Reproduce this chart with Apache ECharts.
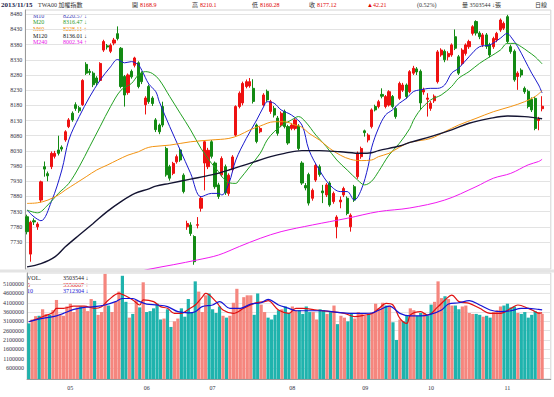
<!DOCTYPE html>
<html>
<head>
<meta charset="utf-8">
<script src="https://cdn.jsdelivr.net/npm/echarts@6/dist/echarts.min.js"></script>
<style>
html, body { margin: 0; padding: 0; background: #fff; }
#main { width: 554px; height: 397px; }
</style>
</head>
<body>
<div id="main"></div>
<script>
// trading days shown on the chart (2013)
var days = [
  '04/15','04/16','04/17','04/18','04/19','04/22','04/23','04/24','04/25','04/26','04/29','04/30',
  '05/02','05/03','05/06','05/07','05/08','05/09','05/10','05/13','05/14','05/15','05/16','05/17','05/20','05/21','05/22','05/23','05/24','05/27','05/28','05/29','05/30','05/31',
  '06/03','06/04','06/05','06/06','06/07','06/10','06/11','06/13','06/14','06/17','06/18','06/19','06/20','06/21','06/24','06/25','06/26','06/27','06/28',
  '07/01','07/02','07/03','07/04','07/05','07/08','07/09','07/10','07/11','07/12','07/15','07/16','07/17','07/18','07/19','07/22','07/23','07/24','07/25','07/26','07/29','07/30','07/31',
  '08/01','08/02','08/05','08/06','08/07','08/08','08/09','08/12','08/13','08/14','08/15','08/16','08/19','08/20','08/22','08/23','08/26','08/27','08/28','08/29','08/30',
  '09/02','09/03','09/04','09/05','09/06','09/09','09/10','09/11','09/12','09/13','09/16','09/17','09/18','09/23','09/24','09/25','09/26','09/27','09/30',
  '10/01','10/02','10/03','10/04','10/07','10/08','10/09','10/11','10/14','10/15','10/16','10/17','10/18','10/21','10/22','10/23','10/24','10/25','10/28','10/29','10/30','10/31',
  '11/01','11/04','11/05','11/06','11/07','11/08','11/11','11/12','11/13','11/14','11/15'
];

// [open, close, low, high]
var kdata = [
  [7813,7764,7755,7820],[7690,7795,7665,7800],[7800,7796,7786,7808],[7780,7789,7770,7795],[7868,7928,7860,7932],
  [7978,7970,7945,7995],[7955,7948,7930,7962],[7978,8022,7970,8028],[8012,8022,8005,8030],[8033,8022,8015,8080],
  [8042,8036,8028,8048],[8066,8093,8060,8098],[8110,8132,8105,8138],[8154,8132,8126,8160],[8182,8170,8162,8190],
  [8172,8162,8155,8178],[8182,8262,8178,8266],[8315,8286,8280,8322],[8292,8288,8280,8300],[8286,8248,8240,8292],
  [8270,8254,8246,8276],[8262,8318,8258,8322],[8362,8390,8356,8396],[8376,8372,8364,8382],[8358,8378,8352,8384],
  [8385,8395,8378,8402],[8416,8400,8394,8440],[8368,8242,8236,8372],[8275,8214,8176,8280],[8222,8280,8215,8285],
  [8292,8274,8268,8298],[8312,8336,8305,8340],[8320,8242,8236,8325],[8286,8258,8250,8292],[8182,8204,8150,8210],
  [8242,8192,8185,8248],[8204,8186,8178,8210],[8132,8100,8092,8138],[8115,8093,8085,8120],[8176,8115,8108,8192],
  [8038,7951,7945,8044],[7978,7940,7932,7984],[7956,7989,7950,7994],[7994,8011,7988,8018],[8033,8000,7994,8040],
  [7950,7896,7890,7956],[7780,7791,7770,7800],[7786,7758,7750,7795],[7748,7665,7655,7752],[7785,7787,7775,7812],
  [7841,7874,7830,7880],[7990,8060,7900,8064],[7978,8032,7970,8040],[8060,8012,8005,8066],[7990,7912,7905,7995],
  [7918,7880,7872,7925],[7951,8005,7945,8012],[7978,7892,7885,7985],[7890,7950,7882,7956],[7968,8010,7960,8016],
  [8082,8176,8076,8180],[8176,8220,8170,8226],[8188,8252,8180,8258],[8242,8258,8236,8265],[8244,8258,8238,8270],
  [8236,8193,8186,8266],[8115,8061,8055,8120],[8093,8104,8088,8110],[8181,8214,8176,8220],[8226,8198,8192,8232],
  [8160,8192,8152,8198],[8170,8148,8140,8178],[8138,8088,8080,8145],[8115,8154,8108,8160],[8160,8110,8104,8166],
  [8110,8056,8050,8116],[8104,8115,8098,8122],[8104,8132,8098,8138],[8112,8038,8032,8118],[7990,7924,7918,7996],
  [7916,7908,7900,7924],[7952,7858,7850,7958],[7874,7900,7866,7906],[7934,7982,7928,7988],[7978,7952,7945,7985],
  [7898,7892,7858,7918],[7885,7918,7878,7924],[7924,7852,7846,7930],[7863,7890,7856,7896],[7780,7812,7742,7818],
  [7862,7868,7841,7880],[7885,7906,7878,7912],[7874,7824,7818,7880],[7780,7818,7764,7824],[7912,7868,7862,7918],
  [7945,8022,7938,8028],[8011,8038,8004,8044],[8096,8090,8077,8100],[8066,8082,8058,8088],[8110,8165,8104,8170],
  [8176,8165,8160,8182],[8176,8192,8170,8198],[8216,8210,8203,8236],[8176,8209,8170,8214],[8181,8225,8176,8230],
  [8209,8176,8170,8214],[8170,8143,8136,8176],[8203,8252,8198,8258],[8230,8247,8224,8254],[8247,8209,8202,8252],
  [8225,8291,8220,8296],[8286,8302,8280,8310],[8300,8290,8280,8306],[8292,8188,8165,8298],[8224,8231,8215,8238],
  [8200,8204,8143,8220],[8170,8187,8162,8194],[8195,8210,8188,8216],[8258,8356,8252,8362],[8346,8362,8340,8368],
  [8358,8330,8322,8364],[8340,8351,8328,8358],[8346,8379,8340,8384],[8406,8368,8362,8430],[8340,8286,8280,8346],
  [8318,8362,8312,8368],[8351,8379,8344,8384],[8373,8390,8366,8396],[8417,8439,8410,8444],[8456,8418,8410,8460],
  [8418,8406,8398,8424],[8379,8412,8372,8418],[8412,8374,8366,8418],[8380,8346,8338,8386],[8373,8400,8366,8406],
  [8395,8417,8388,8422],[8428,8461,8422,8466],[8434,8450,8428,8456],[8472,8390,8384,8478],[8373,8357,8350,8380],
  [8358,8264,8258,8364],[8275,8286,8231,8292],[8296,8280,8272,8302],[8236,8225,8218,8242],[8226,8176,8170,8232],
  [8200,8165,8158,8206],[8203,8104,8098,8208],[8130,8134.91,8098,8142],[8168.9,8177.12,8160.28,8210.1]
];

var volumes = [
  2990000,3200000,3380000,3400000,3750000,3500000,3450000,3700000,4250000,3500000,
  3400000,3900000,4050000,3600000,3850000,3900000,3850000,3650000,4300000,4200000,
  3450000,3600000,5650000,3950000,3600000,4150000,4700000,5550000,4150000,3300000,
  3500000,4250000,3850000,5200000,3600000,3650000,3800000,4050000,3200000,3250000,
  3750000,2800000,3100000,3250000,3800000,3350000,4300000,3550000,5250000,4700000,
  3600000,4500000,4600000,3750000,3550000,3900000,3400000,3300000,3400000,4100000,
  4850000,3800000,4400000,4500000,4500000,3450000,4600000,4000000,3600000,3300000,
  3200000,3450000,3700000,3750000,3900000,3550000,3900000,3700000,3700000,3500000,
  3900000,3600000,3600000,3200000,3750000,3700000,3500000,3600000,3950000,2950000,
  3400000,3300000,3100000,3500000,3250000,3600000,3550000,3400000,3500000,3550000,
  4050000,3800000,4100000,3950000,3950000,3050000,2100000,3200000,3100000,3400000,
  3800000,3700000,3400000,3550000,3550000,3400000,4000000,4150000,5250000,4350000,
  4450000,4300000,3950000,3950000,3750000,3900000,3950000,3550000,3500000,3500000,
  3450000,3350000,3400000,3300000,3600000,3700000,3900000,3950000,4050000,3850000,
  3900000,3550000,3500000,3600000,3300000,3450000,3650000,3600000,3503544
];

// moving averages: [day index, value]
var ma10 = [[0,7835],[2,7813],[4,7800],[7,7863],[10,7967],[12,8066],[15,8143],[18,8208],[21,8263],[24,8307],[26,8331],[28,8320],[30,8324],[32,8313],[33,8295],[35,8250],[37,8225],[38,8192],[41,8110],[44,8033],[47,7956],[50,7879],[53,7890],[55,7890],[56,7885],[58,7923],[60,8000],[63,8071],[66,8132],[68,8176],[69,8192],[71,8187],[73,8165],[76,8148],[79,8115],[81,8033],[84,7967],[87,7918],[90,7896],[92,7896],[94,7868],[96,7901],[98,7978],[99,8040],[101,8105],[103,8148],[105,8165],[107,8187],[109,8203],[111,8225],[113,8231],[116,8236],[118,8236],[120,8247],[122,8286],[124,8302],[127,8340],[130,8373],[133,8379],[136,8401],[138,8417],[139,8406],[141,8373],[143,8330],[145,8286],[147,8247],[148,8220.57]];
var ma20 = [[0,7835],[3,7826],[6,7852],[9,7890],[12,7923],[15,7978],[18,8044],[21,8110],[24,8176],[27,8230],[30,8252],[32,8280],[34,8291],[36,8285],[38,8264],[41,8209],[44,8154],[47,8099],[50,8038],[53,7989],[55,7962],[56,7945],[58,7925],[60,7923],[61,7935],[64,7978],[67,8022],[69,8066],[71,8093],[73,8112],[76,8132],[78,8143],[80,8126],[83,8082],[86,8044],[89,8000],[92,7967],[95,7934],[97,7918],[99,7930],[101,7962],[104,8016],[107,8055],[110,8104],[111,8130],[113,8165],[116,8198],[119,8214],[122,8242],[124,8269],[127,8291],[130,8318],[133,8340],[136,8362],[138,8384],[140,8384],[142,8373],[144,8357],[146,8340],[148,8316.47]];
var ma60 = [[0,7857],[3,7859],[6,7868],[9,7885],[11,7901],[14,7923],[17,7945],[20,7967],[23,7983],[26,8000],[29,8016],[32,8027],[34,8038],[36,8044],[41,8049],[47,8060],[53,8066],[58,8071],[61,8082],[64,8099],[67,8112],[71,8126],[74,8126],[77,8115],[79,8108],[81,8088],[84,8066],[87,8038],[90,8016],[93,8002],[96,7998],[99,8000],[101,8011],[104,8022],[107,8042],[110,8058],[116,8071],[120,8093],[124,8115],[129,8137],[134,8159],[139,8176],[143,8192],[146,8209],[148,8228.11]];
var ma120 = [[0,7648],[4,7659],[8,7681],[11,7714],[15,7753],[19,7791],[23,7830],[27,7863],[31,7890],[35,7905],[37,7914],[41,7923],[47,7937],[53,7951],[58,7967],[64,7989],[70,8011],[74,8022],[79,8031],[84,8031],[90,8027],[96,8022],[99,8024],[101,8031],[107,8046],[110,8058],[116,8077],[122,8099],[127,8121],[133,8137],[138,8145],[143,8143],[148,8136.01]];
var ma240 = [[30,7625],[35,7640],[42,7655],[49,7671],[55,7687],[61,7715],[67,7742],[73,7764],[82,7786],[92,7808],[101,7830],[110,7842],[120,7868],[129,7912],[134,7940],[139,7956],[144,7984],[147,7995],[148,8002.34]];

var volMa5 = [[0,3080000],[4,3350000],[7,3580000],[8,3800000],[10,3800000],[13,3920000],[16,3920000],[19,3800000],[21,3890000],[23,4250000],[26,4600000],[28,4460000],[30,4250000],[32,3980000],[33,4250000],[36,4160000],[38,3890000],[40,3800000],[42,3530000],[44,3530000],[46,3740000],[48,3980000],[50,4400000],[51,4600000],[54,4160000],[56,3710000],[59,3530000],[62,3800000],[65,4070000],[68,4160000],[69,4210000],[72,3710000],[75,3530000],[77,3800000],[79,3800000],[83,3710000],[87,3620000],[91,3530000],[94,3350000],[97,3440000],[99,3530000],[101,3800000],[103,4070000],[105,3980000],[107,3260000],[109,2990000],[110,3440000],[113,3620000],[115,3440000],[118,3890000],[120,4250000],[122,4510000],[124,4160000],[127,4070000],[130,3800000],[133,3530000],[136,3530000],[139,3800000],[141,3980000],[144,3800000],[146,3620000],[147,3540000],[148,3556067]];
var volMa10 = [[0,3080000],[4,3260000],[8,3390000],[10,3530000],[13,3740000],[16,3850000],[19,3890000],[22,3980000],[25,4160000],[27,4330000],[30,4330000],[32,4160000],[34,4030000],[37,3980000],[40,3890000],[43,3620000],[46,3560000],[48,3620000],[50,3890000],[53,3980000],[55,4160000],[58,3800000],[61,3800000],[64,4030000],[67,4100000],[69,4280000],[72,3980000],[75,3800000],[77,3670000],[81,3670000],[85,3670000],[89,3580000],[93,3530000],[97,3530000],[99,3550000],[101,3710000],[104,3920000],[107,3530000],[110,3390000],[113,3390000],[116,3490000],[119,3710000],[121,4030000],[124,4100000],[127,4210000],[130,3980000],[133,3710000],[136,3620000],[139,3670000],[142,3800000],[144,3800000],[147,3740000],[148,3712304]];

var priceTicks = [7730,7780,7830,7880,7930,7980,8030,8080,8130,8180,8230,8280,8330,8380,8430,8480];
var volTicks = [600000,1100000,1600000,2100000,2600000,3100000,3600000,4100000,4600000,5100000];

var FONT = '"Liberation Serif", "Noto Sans CJK TC", serif';
var upColor = '#EE1111', downColor = '#138A13';
var volUp = '#F5867E', volDown = '#1FB3AD';

// two empty slots after the last day, the reference leaves that room
var axisDays = days.concat(['', '']);

var volBars = volumes.map(function (v, i) {
    var prev = i > 0 ? kdata[i - 1][1] : kdata[i][0];
    return { value: v, itemStyle: { color: kdata[i][1] >= prev ? volUp : volDown } };
});

var isMonthStart = function (i) {
    if (i <= 0 || i >= days.length) return false;
    return days[i].slice(0, 2) !== days[i - 1].slice(0, 2);
};

var arrow = function (pts) {
    var n = pts.length;
    var a = pts[n - 1], b = pts[n - 2];
    var av = a.length ? a[1] : a, bv = b.length ? b[1] : b;
    return av >= bv ? '↑' : '↓';
};
var lastVal = function (pts) { return pts[pts.length - 1][1]; };
var plain = function (v) { return String(v); };

var txt = function (x, y, s, color, size, bold) {
    return {
        type: 'text', x: x, y: y, silent: true,
        style: { text: s, fill: color, fontSize: size || 6, fontFamily: FONT,
                 fontWeight: bold ? 'bold' : 'normal', verticalAlign: 'middle' }
    };
};

var last = kdata[kdata.length - 1];
var prevClose = kdata[kdata.length - 2][1];
var chg = last[1] - prevClose;

var graphics = [
    { type: 'rect', shape: { x: 0, y: 269.5, width: 554, height: 3 }, style: { fill: '#E4E4E4' }, silent: true },
    txt(1, 5, '2013/11/15', '#1B1B4B', 7, true),
    txt(38, 5, 'TWA00 加權指數', '#333333', 6),
    txt(132, 5, '開', '#333333', 6), txt(140, 5, String(last[0]), '#E00000', 6),
    txt(192, 5, '高', '#333333', 6), txt(200, 5, String(last[3]), '#E00000', 6),
    txt(252, 5, '低', '#333333', 6), txt(260, 5, String(last[2]), '#E00000', 6),
    txt(309, 5, '收', '#333333', 6), txt(317, 5, String(last[1]), '#E00000', 6),
    txt(367, 5, (chg >= 0 ? '▲' : '▼') + Math.abs(chg).toFixed(2), '#E00000', 6),
    txt(417, 5, '(' + (chg / prevClose * 100).toFixed(2) + '%)', '#333333', 6),
    txt(462, 5, '量 ' + volumes[volumes.length - 1] + ' ' + arrow(volumes) + '張', '#333333', 6),
    txt(535, 5, '日線', '#333333', 6)
];

var maDefs = [
    { name: 'M10', pts: ma10, color: '#1A1ACC', text: '#3A3AB8', width: 1 },
    { name: 'M20', pts: ma20, color: '#22A022', text: '#2E9E2E', width: 1 },
    { name: 'M60', pts: ma60, color: '#F29312', text: '#F08A00', width: 1 },
    { name: 'M120', pts: ma120, color: '#141432', text: '#141414', width: 1.4 },
    { name: 'M240', pts: ma240, color: '#F01AF0', text: '#E81AE8', width: 1 }
];
var legendY = [15.7, 22.3, 29, 35.5, 42.2];
maDefs.forEach(function (d, k) {
    graphics.push(txt(33, legendY[k], d.name, d.text, 6));
    graphics.push(txt(63, legendY[k], lastVal(d.pts).toFixed(2) + ' ' + arrow(d.pts), d.text, 6));
});
graphics.push(txt(27, 278, 'VOL.', '#222222', 6));
graphics.push(txt(63, 278, volumes[volumes.length - 1] + ' ' + arrow(volumes), '#222222', 6));
graphics.push(txt(27, 284.6, '5', '#E01010', 6));
graphics.push(txt(63, 284.6, lastVal(volMa5) + ' ' + arrow(volMa5), '#E01010', 6));
graphics.push(txt(27, 291.2, '10', '#1515D5', 6));
graphics.push(txt(63, 291.2, lastVal(volMa10) + ' ' + arrow(volMa10), '#1515D5', 6));

var lineSeries = function (name, pts, color, width, xi) {
    return {
        name: name, type: 'line', data: pts, xAxisIndex: xi, yAxisIndex: xi,
        showSymbol: false, symbol: 'none', smooth: 0.35, clip: true,
        lineStyle: { color: color, width: width }, z: 3
    };
};

var series = [{
    name: 'K', type: 'candlestick', data: kdata, xAxisIndex: 0, yAxisIndex: 0,
    barWidth: 2.6, z: 2,
    itemStyle: { color: upColor, color0: downColor, borderColor: upColor, borderColor0: downColor, borderWidth: 1 }
}];
maDefs.forEach(function (d) { series.push(lineSeries(d.name, d.pts, d.color, d.width, 0)); });
series.push({
    name: 'VOL', type: 'bar', data: volBars, xAxisIndex: 1, yAxisIndex: 1, barWidth: 3.2, z: 2
});
series.push(lineSeries('V5', volMa5, '#E01010', 1.2, 1));
series.push(lineSeries('V10', volMa10, '#1515D5', 1.2, 1));

var chart = echarts.init(document.getElementById('main'), null, { renderer: 'svg' });
chart.setOption({
    animation: false,
    backgroundColor: '#ffffff',
    grid: [
        { left: 25.3, top: 10, width: 525.5, height: 259, show: true, borderColor: '#D4D4D4', borderWidth: 1 },
        { left: 25.3, top: 273, width: 525.5, height: 106, show: true, borderColor: '#D4D4D4', borderWidth: 1 }
    ],
    xAxis: [
        { type: 'category', gridIndex: 0, data: axisDays, boundaryGap: true,
          axisLine: { show: false }, axisTick: { show: false }, axisLabel: { show: false }, splitLine: { show: false } },
        { type: 'category', gridIndex: 1, data: axisDays, boundaryGap: true,
          axisLine: { show: true, lineStyle: { color: '#9A9A9A' } }, axisTick: { show: false },
          axisLabel: { interval: function (i) { return isMonthStart(i); },
                       formatter: function (v) { return v.slice(0, 2); },
                       fontSize: 6, fontFamily: FONT, color: '#333344', margin: 6 },
          splitLine: { show: false } }
    ],
    yAxis: [
        { type: 'value', gridIndex: 0, min: 7641, max: 8494,
          axisLine: { show: true, lineStyle: { color: '#9A9A9A' } },
          axisTick: { show: false, customValues: priceTicks },
          axisLabel: { customValues: priceTicks, formatter: plain, fontSize: 6, fontFamily: FONT, color: '#333344', margin: 3 },
          splitLine: { show: true, lineStyle: { color: '#E3E3E3', width: 1 } } },
        { type: 'value', gridIndex: 1, min: 0, max: 5700000,
          axisLine: { show: true, lineStyle: { color: '#9A9A9A' } },
          axisTick: { show: false, customValues: volTicks },
          axisLabel: { customValues: volTicks, formatter: plain, fontSize: 6, fontFamily: FONT, color: '#333344', margin: 3 },
          splitLine: { show: true, lineStyle: { color: '#E3E3E3', width: 1 } } }
    ],
    graphic: { elements: graphics },
    series: series
});
</script>
</body>
</html>
